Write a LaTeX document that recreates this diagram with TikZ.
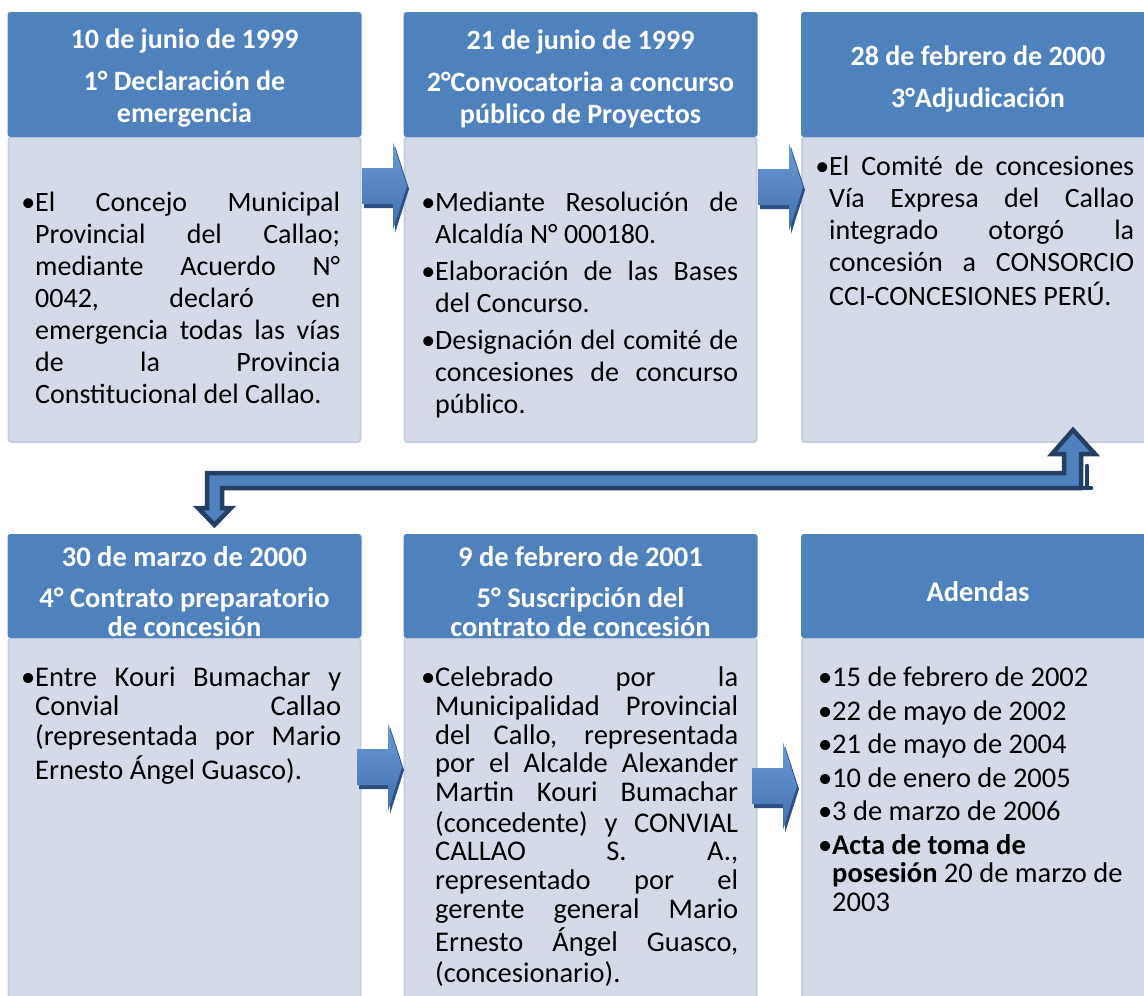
\documentclass[tikz,border=0pt]{standalone}
\usepackage{fontspec}
\setmainfont{Carlito}
\usetikzlibrary{calc}
\definecolor{headblue}{RGB}{79,129,189}
\definecolor{bodyfill}{RGB}{212,218,232}
\definecolor{bodyline}{RGB}{199,207,223}
\definecolor{arrtop}{RGB}{108,154,214}
\definecolor{arrbot}{RGB}{66,112,174}
\definecolor{arrshade}{RGB}{44,78,128}
\definecolor{navy}{RGB}{36,63,99}
\hbadness=10000
\newcommand{\jrow}[1]{\hbox to\hsize{\strut#1}}
\newcommand{\lrow}[1]{\hbox{\strut#1}}
\newcommand{\bul}{\llap{•}}
\newcommand{\colbox}[2]{\vbox{\hsize=#1\relax #2}}
\newcommand{\blockarr}[1]{%
  \fill[arrshade,shift={#1}] (2,-15) -- (33,-15) -- (33,-40) -- (47,3) -- (33,47) -- (33,22) -- (2,22) -- cycle;
  \shade[top color=arrtop,bottom color=arrbot,shift={#1}] (0,-18) -- (31,-18) -- (31,-44) -- (45,0) -- (31,44) -- (31,18) -- (0,18) -- cycle;}

\begin{document}
\begin{tikzpicture}[x=1pt,y=-1pt,
    head/.style={fill=headblue, minimum width=354pt, inner sep=0pt, rounded corners=3pt},
    headtxt/.style={text=white, font=\bfseries\fontsize{28}{32}\selectfont, align=center, inner sep=0pt},
    headlowtxt/.style={headtxt, font=\bfseries\fontsize{28.5}{28.5}\selectfont},
    body/.style={fill=bodyfill, draw=bodyline, line width=2pt, minimum width=352pt,
      rounded corners=3pt, inner sep=0pt},
    txt/.style={anchor=north west, inner sep=0pt},
    topfont/.style={font=\fontsize{28}{32}\selectfont},
    lowfont/.style={font=\fontsize{28.5}{28.7}\selectfont},
    link/.style={draw=navy, fill=headblue, line width=4.5pt, line join=miter}]
  \useasboundingbox (0,0) rectangle (1144,996);
  \clip (0,0) rectangle (1144,996);

  % upper row
  \node[body, minimum height=305pt] (b1) at (184.5,289.5) {};
  \node[body, minimum height=305pt] (b2) at (580.5,289.5) {};
  \node[body, minimum height=305pt] (b3) at (978,289.5) {};
  \node[head, minimum height=125pt] (h1) at (184.5,74.5) {};
  \node[head, minimum height=125pt] (h2) at (580.5,74.5) {};
  \node[head, minimum height=125pt] (h3) at (978,74.5) {};
  \node[headtxt] (d1) at ([yshift=-4pt]h1.center) {10 de junio de 1999\\[10pt]1° Declaración de\\emergencia};
  \node[headtxt] (d2) at ([yshift=-4pt]h2.center) {21 de junio de 1999\\[10pt]2°Convocatoria a concurso\\público de Proyectos};
  \node[headtxt] (d3) at ([yshift=-4.5pt]h3.center) {28 de febrero de 2000\\[10pt]3°Adjudicación};

  \node[txt, topfont] (t1) at (35,189) {\colbox{305pt}{%
    \jrow{\bul El Concejo Municipal}
    \jrow{Provincial del Callao;}
    \jrow{mediante Acuerdo N°}
    \jrow{0042, declaró en}
    \jrow{emergencia todas las vías}
    \jrow{de la Provincia}
    \lrow{Constitucional del Callao.}}};
  \node[txt, topfont] (t2) at (435,189) {\colbox{303pt}{%
    \jrow{\bul Mediante Resolución de}
    \lrow{Alcaldía N° 000180.}
    \vskip5pt
    \jrow{\bul Elaboración de las Bases}
    \lrow{del Concurso.}
    \vskip5pt
    \jrow{\bul Designación del comité de}
    \jrow{concesiones de concurso}
    \lrow{público.}}};
  \node[txt, topfont] (t3) at (829,153) {\colbox{305pt}{%
    \jrow{\bul El Comité de concesiones}
    \jrow{Vía Expresa del Callao}
    \jrow{integrado otorgó la}
    \jrow{concesión a CONSORCIO}
    \lrow{CCI-CONCESIONES PERÚ.}}};

  % lower row
  \node[body, minimum height=362pt] (b4) at (184.5,819) {};
  \node[body, minimum height=362pt] (b5) at (580.5,819) {};
  \node[body, minimum height=362pt] (b6) at (978,819) {};
  \node[head, minimum height=104pt] (h4) at (184.5,586) {};
  \node[head, minimum height=104pt] (h5) at (580.5,586) {};
  \node[head, minimum height=104pt] (h6) at (978,586) {};
  \node[headlowtxt] (d4) at ([yshift=-5.5pt]h4.center) {30 de marzo de 2000\\[13pt]4° Contrato preparatorio\\de concesión};
  \node[headlowtxt] (d5) at ([yshift=-5.5pt]h5.center) {9 de febrero de 2001\\[13pt]5° Suscripción del\\contrato de concesión};
  \node[headlowtxt] (d6) at ([yshift=-6pt]h6.center) {Adendas};

  \node[txt, lowfont] (t4) at (35,666.5) {\colbox{306pt}{%
    \jrow{\bul Entre Kouri Bumachar y}
    \jrow{Convial Callao}
    \jrow{(representada por Mario}
    \lrow{Ernesto Ángel Guasco).}}};
  \node[txt, lowfont] (t5) at (435,666.5) {\colbox{303pt}{%
    \jrow{\bul Celebrado por la}
    \jrow{Municipalidad Provincial}
    \jrow{del Callo, representada}
    \jrow{por el Alcalde Alexander}
    \jrow{Martin Kouri Bumachar}
    \jrow{(concedente) y CONVIAL}
    \jrow{CALLAO S. A.,}
    \jrow{representado por el}
    \jrow{gerente general Mario}
    \jrow{Ernesto Ángel Guasco,}
    \lrow{(concesionario).}}};
  \node[txt, lowfont] (t6) at (832,666.5) {\colbox{305pt}{%
    \lrow{\bul 15 de febrero de 2002}
    \vskip4.8pt
    \lrow{\bul 22 de mayo de 2002}
    \vskip4.8pt
    \lrow{\bul 21 de mayo de 2004}
    \vskip4.8pt
    \lrow{\bul 10 de enero de 2005}
    \vskip4.8pt
    \lrow{\bul 3 de marzo de 2006}
    \vskip4.8pt
    \lrow{\bul\textbf{Acta de toma de}}
    \lrow{\textbf{posesión} 20 de marzo de}
    \lrow{2003}}};

  % block arrows
  \blockarr{(362,186)}
  \blockarr{(758,187)}
  \blockarr{(357,767)}
  \blockarr{(752,786)}

  % bent link from upper row to lower row
  \filldraw[link] (1081,488) -- (222,488) -- (222,508) -- (231,508) -- (214.5,525)
    -- (198,508) -- (207,508) -- (207,473) -- (1064,473) -- (1064,454) -- (1052,454)
    -- (1073,430) -- (1095,454) -- (1081,454) -- cycle;
  \draw[navy, line width=4.5pt, line cap=round] (1081,488) -- (1091,488) (1087,466) -- (1087,488);
\end{tikzpicture}
\end{document}
